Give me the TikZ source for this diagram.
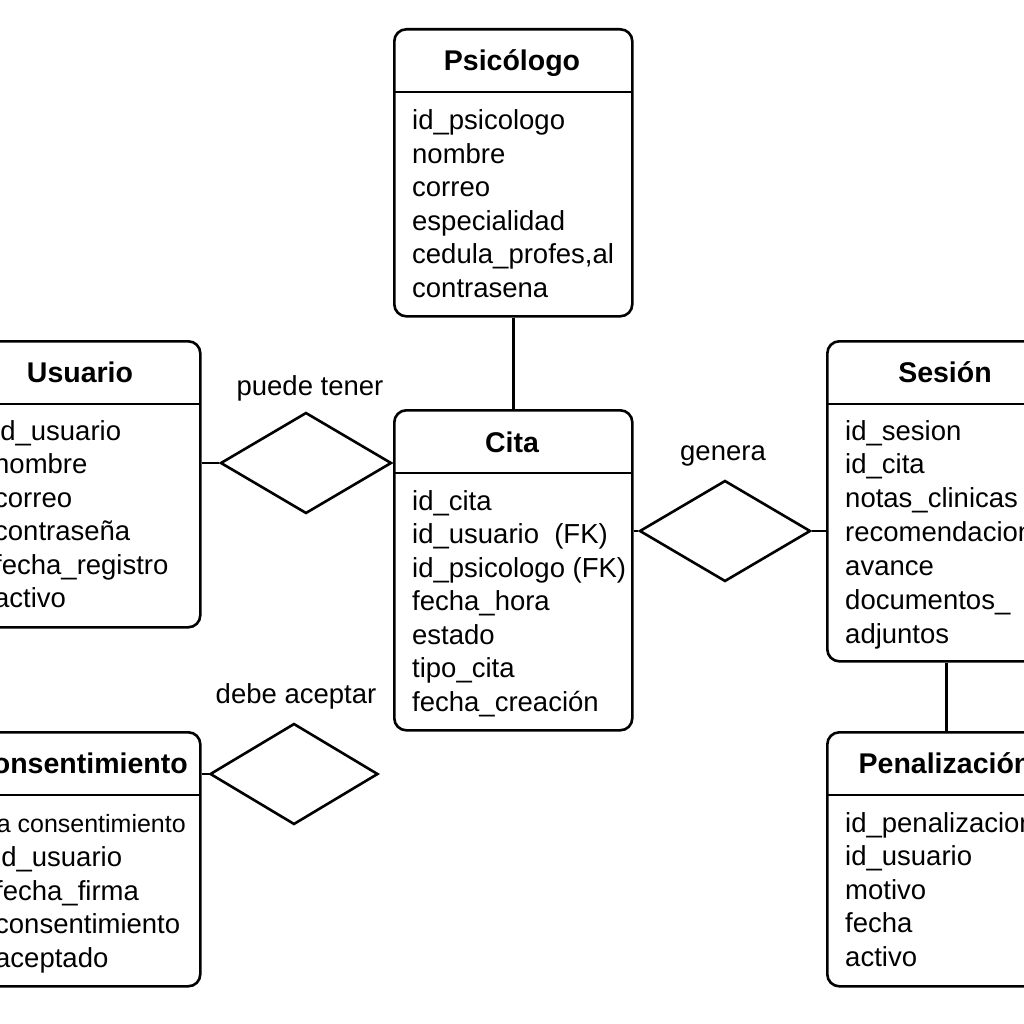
\documentclass[tikz,border=0pt]{standalone}
\usepackage{fontspec}
\setmainfont{Liberation Sans}
\usetikzlibrary{shapes.geometric}
\begin{document}
\begin{tikzpicture}[x=1pt,y=-1pt,
  ent/.style={draw, line width=2.6pt, rounded corners=12pt, inner sep=0pt, anchor=north west, minimum width=238pt},
  hdr/.style={font=\fontsize{28.5}{30}\selectfont\bfseries, inner sep=0pt, text height=20pt, text depth=6pt},
  attr/.style={font=\fontsize{27.5}{30}\selectfont, anchor=west, inner sep=0pt, text height=20pt, text depth=6pt},
  lbl/.style={font=\fontsize{27.5}{30}\selectfont, inner sep=0pt, text height=20pt, text depth=6pt},
  rel/.style={draw, line width=2.6pt, diamond, inner sep=0pt, aspect=1.7, minimum width=171pt, minimum height=101pt},
  conn/.style={line width=2.6pt},
  sep/.style={line width=2.6pt}]
\useasboundingbox (0,0) rectangle (1024,1024);
\fill[white] (0,0) rectangle (1024,1024);
\clip (0,0) rectangle (1024,1024);

% entities
\node[ent, minimum height=287pt] (psi) at (393,28) {};
\node[ent, minimum height=320pt] (cita) at (393,409) {};
\node[ent, minimum height=286pt] (usu) at (-39,340) {};
\node[ent, minimum height=254pt] (cons) at (-39,731) {};
\node[ent, minimum height=320pt] (ses) at (826,340) {};
\node[ent, minimum height=254pt] (pen) at (826,731) {};

% header separators
\draw[sep] (393,92) -- (631,92);
\draw[sep] (393,473) -- (631,473);
\draw[sep] (-39,404) -- (199,404);
\draw[sep] (-39,795) -- (199,795);
\draw[sep] (826,404) -- (1064,404);
\draw[sep] (826,795) -- (1064,795);

% titles
\node[hdr] (tpsi) at (512,64) {Psicólogo};
\node[hdr] (tcita) at (512,445) {Cita};
\node[hdr] (tusu) at (80,375) {Usuario};
\node[hdr] (tcons) at (80,766) {Consentimiento};
\node[hdr] (tses) at (945,375) {Sesión};
\node[hdr] (tpen) at (945,766) {Penalización};

% Psicologo attributes
\foreach \t [count=\i from 0] in {id\_psicologo,nombre,correo,especialidad,{cedula\_profes,al},contrasena}
  \node[attr] (pa\i) at (412,123+33.4*\i) {\t};
% Cita attributes
\foreach \t [count=\i from 0] in {id\_cita,id\_usuario\ \ (FK),id\_psicologo (FK),fecha\_hora,estado,tipo\_cita,fecha\_creación}
  \node[attr] (ca\i) at (412,503+33.5*\i) {\t};
% Usuario attributes
\foreach \t [count=\i from 0] in {id\_usuario,nombre,correo,contraseña,fecha\_registro,activo}
  \node[attr] (ua\i) at (-6,433+33.5*\i) {\t};
% Consentimiento attributes
\node[attr, anchor=east, font=\fontsize{25}{28}\selectfont] (coa0) at (186,825) {a consentimiento};
\foreach \t [count=\i from 1] in {id\_usuario,fecha\_firma,consentimiento,aceptado}
  \node[attr] (coa\i) at (-5,826+33.5*\i) {\t};
% Sesion attributes
\foreach \t [count=\i from 0] in {id\_sesion,id\_cita,notas\_clinicas,recomendaciones,avance,documentos\_,adjuntos}
  \node[attr] (sa\i) at (845,433+33.9*\i) {\t};
% Penalizacion attributes
\foreach \t [count=\i from 0] in {id\_penalizacion,id\_usuario,motivo,fecha,activo}
  \node[attr] (pna\i) at (845,825+33.6*\i) {\t};

% relationships
\node[rel] (r1) at (306,463) {};
\node[rel] (r2) at (725,531) {};
\node[rel, minimum width=168pt] (r3) at (294,774) {};
\node[lbl] (l1) at (310,388) {puede tener};
\node[lbl] (l2) at (723,453) {genera};
\node[lbl] (l3) at (296,696) {debe aceptar};

% connectors
\draw[conn] (psi.south) -- (cita.north);
\draw[conn] (usu.east |- r1.west) -- (r1.west);
\draw[conn] (r1.east) -- (cita.west |- r1.east);
\draw[conn] (cita.east |- r2.west) -- (r2.west);
\draw[conn] (r2.east) -- (ses.west |- r2.east);
\draw[conn] (ses.south) -- (pen.north);
\draw[conn] (cons.east |- r3.west) -- (r3.west);
\end{tikzpicture}
\end{document}
